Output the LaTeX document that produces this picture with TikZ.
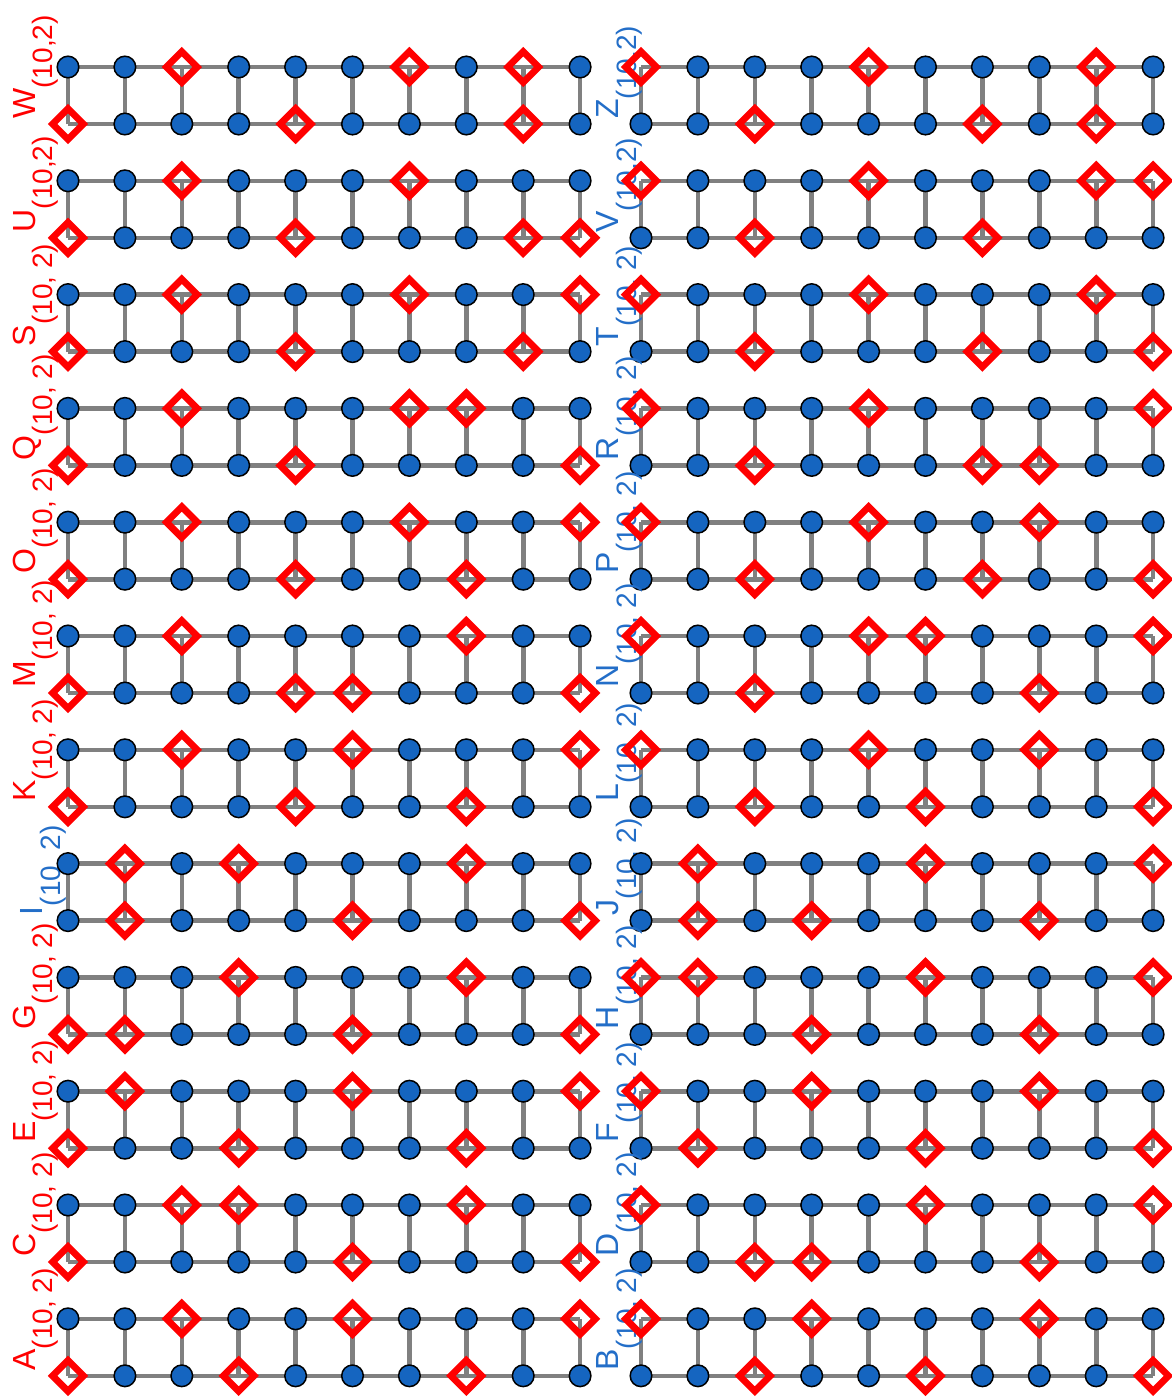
\documentclass[tikz,border=0pt]{standalone}
\usepackage{fontspec}
\setmainfont{Liberation Sans}
\usepackage{tikz}
\usetikzlibrary{shapes.geometric}
\definecolor{dotblue}{RGB}{21,101,192}
\definecolor{labblue}{RGB}{35,110,200}
\definecolor{railgrey}{RGB}{128,128,128}
\pgfdeclarelayer{background}
\pgfsetlayers{background,main}

\begin{document}
\begin{tikzpicture}[x=0.5pt, y=-0.5pt,
  dot/.style={circle, draw=black, line width=0.75pt, fill=dotblue,
              minimum size=10.8pt, inner sep=0pt},
  dom/.style={diamond, draw=red, line width=3.4pt, minimum size=16.8pt,
              inner sep=0pt},
  rail/.style={draw=railgrey, line width=2.3pt},
  lbl/.style={rotate=90, anchor=base west, inner sep=0pt,
              font=\fontsize{16}{16}\selectfont}]
  \useasboundingbox (0,0) rectangle (1172,1398);
  \foreach \lab/\px/\lx/\k/\tops/\bots/\sub/\col in {
      W/68/35/0/{3,7,9}/{1,5,9}/{(10,2)}/red,
      U/68/35/1/{3,7}/{1,5,9,10}/{(10,2)}/red,
      S/68/35/2/{3,7,10}/{1,5,9}/{(10, 2)}/red,
      Q/68/35/3/{3,7,8}/{1,5,10}/{(10, 2)}/red,
      O/68/35/4/{3,7,10}/{1,5,8}/{(10, 2)}/red,
      M/68/35/5/{3,8}/{1,5,6,10}/{(10, 2)}/red,
      K/68/35/6/{3,6,10}/{1,5,8}/{(10, 2)}/red,
      I/68/42/7/{2,4,8}/{2,6,10}/{(10, 2)}/labblue,
      G/68/35/8/{4,8}/{1,2,6,10}/{(10, 2)}/red,
      E/68/35/9/{2,6,10}/{1,4,8}/{(10, 2)}/red,
      C/68/35/10/{3,4,8}/{1,6,10}/{(10, 2)}/red,
      A/68/35/11/{3,6,10}/{1,4,8}/{(10, 2)}/red,
      Z/641/618/0/{1,5,9}/{3,7,9}/{(10,2)}/labblue,
      V/641/618/1/{1,5,9,10}/{3,7}/{(10,2)}/labblue,
      T/641/618/2/{1,5,9}/{3,7,10}/{(10, 2)}/labblue,
      R/641/618/3/{1,5,10}/{3,7,8}/{(10, 2)}/labblue,
      P/641/618/4/{1,5,8}/{3,7,10}/{(10, 2)}/labblue,
      N/641/618/5/{1,5,6,10}/{3,8}/{(10, 2)}/labblue,
      L/641/618/6/{1,5,8}/{3,6,10}/{(10, 2)}/labblue,
      J/641/618/7/{2,6,10}/{2,4,8}/{(10, 2)}/labblue,
      H/641/618/8/{1,2,6,10}/{4,8}/{(10, 2)}/labblue,
      F/641/618/9/{1,4,8}/{2,6,10}/{(10, 2)}/labblue,
      D/641/618/10/{1,6,10}/{3,4,8}/{(10, 2)}/labblue,
      B/641/618/11/{1,4,8}/{3,6,10}/{(10, 2)}/labblue}{
    \node[lbl, text=\col] (\lab-label) at (\lx, 67+113.8*\k+52)
      {\lab\raisebox{-9pt}{\fontsize{14}{14}\selectfont\sub}};
    \foreach \c in {1,...,10}{
      \gdef\sty{dot}
      \foreach \d in \tops {\ifnum\c=\d\relax\gdef\sty{dom}\fi}
      \node[\sty] (\lab-t\c) at (\px+56.9*\c-56.9, 67+113.8*\k) {};
      \gdef\sty{dot}
      \foreach \d in \bots {\ifnum\c=\d\relax\gdef\sty{dom}\fi}
      \node[\sty] (\lab-b\c) at (\px+56.9*\c-56.9, 124+113.8*\k) {};
    }
    \begin{pgfonlayer}{background}
      \foreach \c [count=\n from 2] in {1,...,9}
        \draw[rail] (\lab-t\c.center) -- (\lab-t\n.center)
                    (\lab-b\c.center) -- (\lab-b\n.center);
      \foreach \c in {1,...,10}
        \draw[rail] (\lab-t\c.center) -- (\lab-b\c.center);
    \end{pgfonlayer}
  }
\end{tikzpicture}
\end{document}
